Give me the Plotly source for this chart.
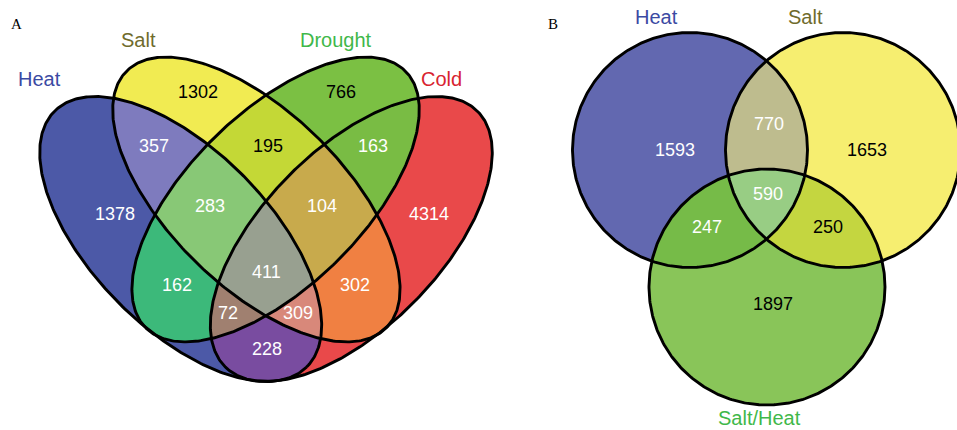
import numpy as np
import plotly.graph_objects as go

# ---------------- data ----------------
# Panel A: four stress treatments
SETS_A = ["Heat", "Salt", "Drought", "Cold"]
REGIONS_A = ["H", "S", "D", "C", "HS", "SD", "DC", "HD", "SC", "HC",
             "HSD", "SDC", "HDC", "HSC", "HSDC"]
COUNTS_A = [1378, 1302, 766, 4314, 357, 195, 163, 162, 302, 228,
            283, 104, 72, 309, 411]

# Panel B: single vs combined stress
SETS_B = ["Heat", "Salt", "Salt/Heat"]
REGIONS_B = ["H", "S", "X", "HS", "HX", "SX", "HSX"]
COUNTS_B = [1593, 1653, 1897, 770, 247, 250, 590]

# ---------------- styling / layout ----------------
SET_LETTER_A = {"Heat": "H", "Salt": "S", "Drought": "D", "Cold": "C"}
SET_LETTER_B = {"Heat": "H", "Salt": "S", "Salt/Heat": "X"}

LABEL_COLOR_A = {"Heat": "#3b4aa3", "Salt": "#6f6b2c", "Drought": "#3fb84a", "Cold": "#d8232f"}
LABEL_COLOR_B = {"Heat": "#3b4aa3", "Salt": "#6f6b2c", "Salt/Heat": "#3fb84a"}

REGION_COLOR_A = {
    "H": (76, 89, 167), "S": (241, 235, 82), "D": (123, 192, 67), "C": (233, 73, 74),
    "HS": (126, 123, 190), "SD": (196, 216, 54), "DC": (121, 188, 68),
    "HD": (60, 185, 122), "SC": (240, 128, 66), "HC": (121, 76, 160),
    "HSD": (136, 200, 118), "SDC": (200, 170, 76), "HDC": (160, 128, 112),
    "HSC": (216, 136, 122), "HSDC": (152, 160, 144),
}
REGION_COLOR_B = {
    "H": (98, 104, 176), "S": (246, 238, 112), "X": (137, 197, 89),
    "HS": (190, 188, 142), "HX": (118, 187, 72), "SX": (196, 214, 64),
    "HSX": (152, 205, 132),
}
DARK_TEXT_A = {"S", "D", "SD"}
DARK_TEXT_B = {"S", "X", "SX"}

# ellipse geometry in page pixels: cx, cy, semi-major, semi-minor, angle (deg, y down)
SHAPES_A = {
    "Heat":    (180.7, 239.0, 179.6, 89.0, 45.5),
    "Salt":    (256.4, 199.5, 182.6, 87.1, 44.6),
    "Drought": (275.6, 199.5, 182.6, 87.1, 135.4),
    "Cold":    (351.3, 239.0, 179.6, 89.0, 134.5),
}
SHAPES_B = {
    "Heat":      (690.0, 150.0, 117.5, 117.5, 0.0),
    "Salt":      (843.0, 150.0, 117.5, 117.5, 0.0),
    "Salt/Heat": (767.0, 287.0, 118.0, 118.0, 0.0),
}

COUNT_POS_A = {
    "S": (198, 92), "D": (341, 92), "HS": (154, 146), "SD": (268, 146), "DC": (373, 146),
    "H": (115, 214), "HSD": (210, 206), "SDC": (322, 206), "C": (429, 214),
    "HSDC": (266, 272), "HD": (177, 285), "SC": (355, 285), "HDC": (228, 313),
    "HSC": (298, 313), "HC": (267, 349),
}
COUNT_POS_B = {
    "H": (675, 150), "HS": (769, 124), "S": (867, 150), "HSX": (768, 194),
    "HX": (707, 227), "SX": (828, 227), "X": (773, 304),
}
SET_POS_A = {"Heat": (39, 79), "Salt": (138, 40), "Drought": (336, 40), "Cold": (441, 79)}
SET_POS_B = {"Heat": (656, 17), "Salt": (805, 17), "Salt/Heat": (759, 418)}

FONT = "Liberation Sans, Arial, sans-serif"
SERIF = "Liberation Serif, Times New Roman, serif"
LINE_W = 2.9


def inside(shape, X, Y):
    cx, cy, a, b, ang = shape
    t = np.deg2rad(ang)
    dx, dy = X - cx, Y - cy
    u = dx * np.cos(t) + dy * np.sin(t)
    v = -dx * np.sin(t) + dy * np.cos(t)
    return (u / a) ** 2 + (v / b) ** 2 <= 1.0


def outline(shape, n=400):
    cx, cy, a, b, ang = shape
    t = np.deg2rad(ang)
    s = np.linspace(0, 2 * np.pi, n)
    x = cx + a * np.cos(s) * np.cos(t) - b * np.sin(s) * np.sin(t)
    y = cy + a * np.cos(s) * np.sin(t) + b * np.sin(s) * np.cos(t)
    return x, y


def region_map(sets, shapes, letters, regions, colors, xr, yr):
    xs = np.arange(xr[0], xr[1] + 1, 1.0)
    ys = np.arange(yr[0], yr[1] + 1, 1.0)
    X, Y = np.meshgrid(xs, ys)
    code = np.zeros(X.shape, dtype=int)
    for i, name in enumerate(sets):
        code |= inside(shapes[name], X, Y).astype(int) << i
    order = [letters[s] for s in sets]
    # region key -> membership code
    key_code = {r: sum(1 << order.index(ch) for ch in r) for r in regions}
    n = 1 << len(sets)
    cols = ["rgb(255,255,255)"] * n
    for r in regions:
        cols[key_code[r]] = "rgb(%d,%d,%d)" % colors[r]
    scale = []
    for k in range(n):
        scale.append([k / n, cols[k]])
        scale.append([(k + 1) / n, cols[k]])
    z = np.where(code > 0, code + 0.5, np.nan)
    return go.Heatmap(x=xs, y=ys, z=z, zmin=0, zmax=n, colorscale=scale,
                      showscale=False, hoverinfo="skip", zsmooth=False)


fig = go.Figure()

fig.add_trace(region_map(SETS_A, SHAPES_A, SET_LETTER_A, REGIONS_A, REGION_COLOR_A,
                         (25, 505), (45, 395)))
fig.add_trace(region_map(SETS_B, SHAPES_B, SET_LETTER_B, REGIONS_B, REGION_COLOR_B,
                         (565, 957), (25, 410)))

for shapes in (SHAPES_A, SHAPES_B):
    for name, shp in shapes.items():
        x, y = outline(shp)
        fig.add_trace(go.Scatter(x=x, y=y, mode="lines",
                                 line=dict(color="black", width=LINE_W),
                                 hoverinfo="skip", showlegend=False))

ann = []
for r, c in zip(REGIONS_A, COUNTS_A):
    x, y = COUNT_POS_A[r]
    ann.append(dict(x=x, y=y, text=str(c), showarrow=False,
                    font=dict(family=FONT, size=18, color="black" if r in DARK_TEXT_A else "white")))
for r, c in zip(REGIONS_B, COUNTS_B):
    x, y = COUNT_POS_B[r]
    ann.append(dict(x=x, y=y, text=str(c), showarrow=False,
                    font=dict(family=FONT, size=18, color="black" if r in DARK_TEXT_B else "white")))
for name in SETS_A:
    x, y = SET_POS_A[name]
    ann.append(dict(x=x, y=y, text=name, showarrow=False,
                    font=dict(family=FONT, size=20, color=LABEL_COLOR_A[name])))
for name in SETS_B:
    x, y = SET_POS_B[name]
    ann.append(dict(x=x, y=y, text=name, showarrow=False,
                    font=dict(family=FONT, size=20, color=LABEL_COLOR_B[name])))
ann.append(dict(x=16, y=24, text="A", showarrow=False, font=dict(family=SERIF, size=15, color="black")))
ann.append(dict(x=553, y=24, text="B", showarrow=False, font=dict(family=SERIF, size=15, color="black")))

fig.update_layout(
    width=957, height=430,
    margin=dict(l=0, r=0, t=0, b=0),
    paper_bgcolor="white", plot_bgcolor="white",
    showlegend=False,
    annotations=ann,
    xaxis=dict(range=[0, 957], visible=False, fixedrange=True),
    yaxis=dict(range=[430, 0], visible=False, fixedrange=True),
)

fig.write_html("out.html", config={"displayModeBar": False})
